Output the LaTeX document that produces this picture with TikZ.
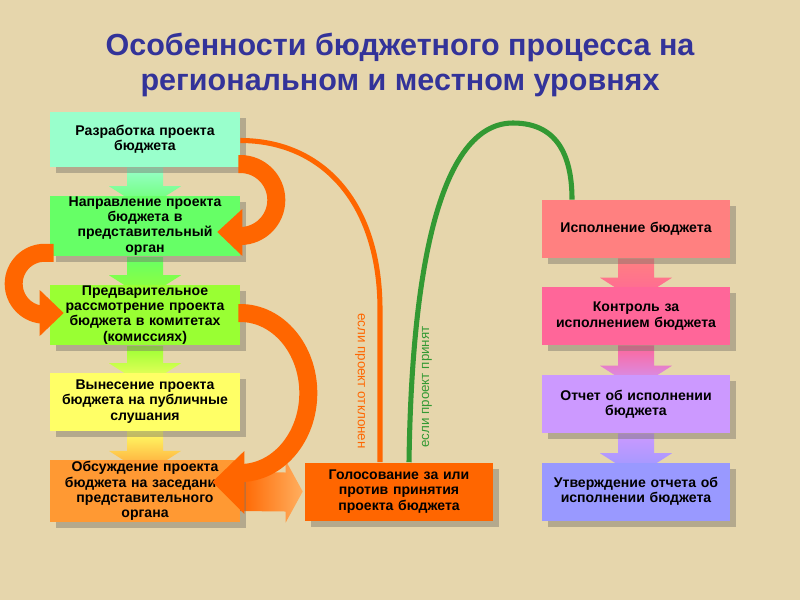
\documentclass[tikz,border=0pt]{standalone}
\usepackage{fontspec}
\setmainfont{Liberation Sans}
\usetikzlibrary{shadows,calc,backgrounds}
\definecolor{parch}{RGB}{230,214,172}
\definecolor{cTitle}{RGB}{51,51,153}
\definecolor{cShadow}{RGB}{120,115,105}
\definecolor{cMint}{RGB}{153,255,204}
\definecolor{cGreen}{RGB}{102,255,102}
\definecolor{cLime}{RGB}{153,255,51}
\definecolor{cYellow}{RGB}{255,255,102}
\definecolor{cOrange}{RGB}{255,153,51}
\definecolor{cDark}{RGB}{255,102,0}
\definecolor{cLight}{RGB}{255,175,95}
\definecolor{cSalmon}{RGB}{255,128,128}
\definecolor{cPink}{RGB}{255,102,153}
\definecolor{cLilac}{RGB}{204,153,255}
\definecolor{cBlue}{RGB}{153,153,255}
\definecolor{cLeaf}{RGB}{51,153,51}

\begin{document}
\begin{tikzpicture}
[x=0.025cm, y=-0.025cm,
    boxshadow/.style={drop shadow={shadow xshift=.15cm, shadow yshift=-.15cm, fill=cShadow, opacity=.45}},
    box/.style={shape=rectangle, minimum width=4.75cm, minimum height=1.45cm, text width=4.6cm,
        align=center, inner sep=1pt, font=\bfseries\fontsize{10}{10.8}\selectfont, boxshadow},
    bigarc/.style={draw=cDark, line width=12.8pt},
    branch/.style={line width=3.6pt},
    lab/.style={font=\fontsize{9.5}{11}\selectfont, inner sep=0pt}]
\useasboundingbox (0,0) rectangle (800,600);
%%%%% title
\node (title) [anchor=north, align=center, text=cTitle, inner sep=0pt,
    font=\bfseries\fontsize{21.7}{25}\selectfont] at (400,33)
    {Особенности бюджетного процесса на\\региональном и местном уровнях};
%%%%% left column
\node (b1) [box, fill=cMint, minimum height=1.375cm] at (145,139.5) {Разработка проекта\\бюджета};
\node (b2) [box, fill=cGreen] at (145,226) {Направление проекта\\бюджета в\\представительный\\орган};
\node (b3) [box, fill=cLime] at (145,315) {Предварительное\\рассмотрение проекта\\бюджета в комитетах\\(комиссиях)};
\node (b4) [box, fill=cYellow] at (145,401.5) {Вынесение проекта\\бюджета на публичные\\слушания};
\node (b5) [box, fill=cOrange] at (145,491) {Обсуждение проекта\\бюджета на заседании\\представительного\\органа};
\node (b6) [box, fill=cDark, minimum width=4.7cm] at (399,491.5) {Голосование за или\\против принятия\\проекта бюджета};
%%%%% right column
\node (r1) [box, fill=cSalmon, minimum width=4.7cm] at (636,229) {Исполнение бюджета};
\node (r2) [box, fill=cPink, minimum width=4.7cm] at (636,316) {Контроль за\\исполнением бюджета};
\node (r3) [box, fill=cLilac, minimum width=4.7cm] at (636,404) {Отчет об исполнении\\бюджета};
\node (r4) [box, fill=cBlue, minimum width=4.7cm] at (636,491.5) {Утверждение отчета об\\исполнении бюджета};
%%%%% background and block arrows
\begin{scope}[on background layer]
\fill[parch] (0,0) rectangle (800,600);
\foreach \u/\v/\cu/\cv in {b1/b2/cMint/cGreen, b2/b3/cGreen/cLime, b3/b4/cLime/cYellow,
    b4/b5/cYellow/cOrange, r1/r2/cSalmon/cPink, r2/r3/cPink/cLilac, r3/r4/cLilac/cBlue}
  \shade[top color=\cu, bottom color=\cv]
    ($(\u.south)+(-18,0)$) -- ($(\u.south)+(18,0)$) -- ($(\v.north)+(18,-9)$)
    -- ($(\v.north)+(36,-9)$) -- ($(\v.north)+(0,14)$) -- ($(\v.north)+(-36,-9)$)
    -- ($(\v.north)+(-18,-9)$) -- cycle;
\shade[left color=cDark, right color=cLight]
    ($(b5.east)+(0,-19)$) -- ($(b6.west)+(-19,-19)$) -- ($(b6.west)+(-19,-31)$)
    -- ($(b6.west)+(-2,0)$) -- ($(b6.west)+(-19,31)$) -- ($(b6.west)+(-19,20)$)
    -- ($(b5.east)+(0,20)$) -- cycle;
\end{scope}
%%%%% orange loops
\draw[bigarc] ($(b1.east)+(-2,24.5)$) -- ++(2,0) arc[start angle=-90, end angle=90, radius=36] -- ++(-2,0);
\fill[cDark] ($(b2.east)+(-23,6)$) -- ($(b2.east)+(2,-17)$) -- ($(b2.east)+(2,30)$) -- cycle;
\draw[bigarc] ($(b2.south west)+(4,-4)$) -- ++(-9,0) arc[start angle=-90, end angle=-270, radius=31] -- ++(2,0);
\fill[cDark] ($(b3.west)+(14,-2)$) -- ($(b3.west)+(-10,-25)$) -- ($(b3.west)+(-10,21)$) -- cycle;
\draw[bigarc] ($(b3.east)+(-2,-2)$) -- ++(2,0) arc[start angle=-90, end angle=90, x radius=68, y radius=80] -- ++(-2,0);
\fill[cDark] ($(b5.east)+(-28,-9)$) -- ($(b5.east)+(4,-40)$) -- ($(b5.east)+(4,23)$) -- cycle;
%%%%% decision lines
\draw[branch, cDark] ($(b1.east)+(0,1)$) .. controls +(80,0) and (380,200) .. (380,310)
    -- ($(b6.north)+(-19,0)$);
\draw[branch, cLeaf] ($(b6.north)+(10,0)$) .. controls (412,250) and (445,123) .. (513,123)
    .. controls (560,123) and ($(r1.north)+(-64,-40)$) .. ($(r1.north)+(-64,0)$);
\node (no) [lab, text=cDark, rotate=-90] at (360,381) {если проект отклонен};
\node (yes) [lab, text=cLeaf, rotate=90] at (427,387) {если проект принят};
\end{tikzpicture}
\end{document}
